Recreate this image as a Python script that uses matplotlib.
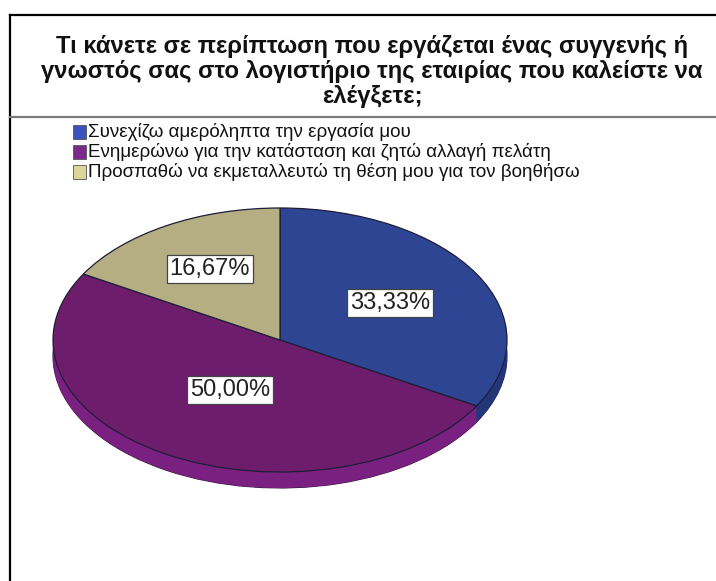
import matplotlib
matplotlib.use("Agg")
import matplotlib.pyplot as plt
from matplotlib.patches import Rectangle
from matplotlib.lines import Line2D
import numpy as np

plt.rcParams['font.family'] = ['Liberation Sans', 'DejaVu Sans']

# Data
title_lines = [
    "Τι κάνετε σε περίπτωση που εργάζεται ένας συγγενής ή",
    "γνωστός σας στο λογιστήριο της εταιρίας που καλείστε να",
    "ελέγξετε;",
]
categories = [
    "Συνεχίζω αμερόληπτα την εργασία μου",
    "Ενημερώνω για την κατάσταση και ζητώ αλλαγή πελάτη",
    "Προσπαθώ να εκμεταλλευτώ τη θέση μου για τον βοηθήσω",
]
shares = [33.33, 50.00, 16.67]

top_colors = ["#2E4594", "#6E1C6C", "#B5AE82"]
side_colors = ["#24367A", "#7A2080", "#8E875F"]
legend_colors = ["#3B52BE", "#7B2A8C", "#DAD699"]

W, H = 716, 581
fig = plt.figure(figsize=(W / 100, H / 100), dpi=100)
fig.patch.set_facecolor("white")

# Full-figure overlay in pixel coordinates (y grows downward)
bg = fig.add_axes([0, 0, 1, 1])
bg.set_xlim(0, W)
bg.set_ylim(H, 0)
bg.axis("off")

# Frame: left and top edges, plus the title separator
bg.add_line(Line2D([10, 10], [15, H], color="black", lw=1.6))
bg.add_line(Line2D([10, W], [15, 15], color="black", lw=1.6))
bg.add_line(Line2D([10, W], [117, 117], color="#7a7a7a", lw=1.6))

# Title
for i, line in enumerate(title_lines):
    bg.text(372, 47 + i * 24.5, line, ha="center", va="center",
            fontsize=17.2, fontweight="bold", color="#111111")

# Legend
for i, (lab, col) in enumerate(zip(categories, legend_colors)):
    y = 132 + i * 20
    bg.add_patch(Rectangle((73, y - 7), 13, 14, facecolor=col,
                           edgecolor="#555555", lw=0.6))
    bg.text(88, y, lab, ha="left", va="center", fontsize=13.5, color="#111111")

# Pie: elliptical top face with a shallow extruded side
cx_px, cy_px, rx_px, ry_px = 280, 340, 227, 132
depth_px = 16
d = depth_px / ry_px
left = (cx_px - rx_px) / W
bottom = 1 - (cy_px + ry_px + depth_px) / H
width = 2 * rx_px / W
height = (2 * ry_px + depth_px) / H
pax = fig.add_axes([left, bottom, width, height])

n_layers = 24
# outline along the bottom of the side wall
pax.pie(shares, colors=side_colors, startangle=90, counterclock=False,
        center=(0, -d), radius=1,
        wedgeprops=dict(linewidth=0.8, edgecolor="#3a1a40"))
for k in range(n_layers, 0, -1):
    pax.pie(shares, colors=side_colors, startangle=90, counterclock=False,
            center=(0, -d * k / n_layers), radius=1,
            wedgeprops=dict(linewidth=0))
wedges, _ = pax.pie(shares, colors=top_colors, startangle=90, counterclock=False,
                    center=(0, 0), radius=1,
                    wedgeprops=dict(linewidth=0.9, edgecolor="#1e1e3a"))
pax.set_aspect("auto")
pax.set_xlim(-1, 1)
pax.set_ylim(-1 - d, 1)
pax.axis("off")

# Percentage labels in white boxes
label_dist = [0.56, 0.44, 0.62]
for w, v, r in zip(wedges, shares, label_dist):
    ang = np.deg2rad((w.theta1 + w.theta2) / 2)
    txt = f"{v:.2f}%".replace(".", ",")
    pax.text(r * np.cos(ang), r * np.sin(ang), txt, ha="center", va="center",
             fontsize=17, color="#222222",
             bbox=dict(boxstyle="square,pad=0.12", facecolor="white",
                       edgecolor="#444444", lw=0.9))

fig.savefig("out.png", dpi=100, facecolor="white")
